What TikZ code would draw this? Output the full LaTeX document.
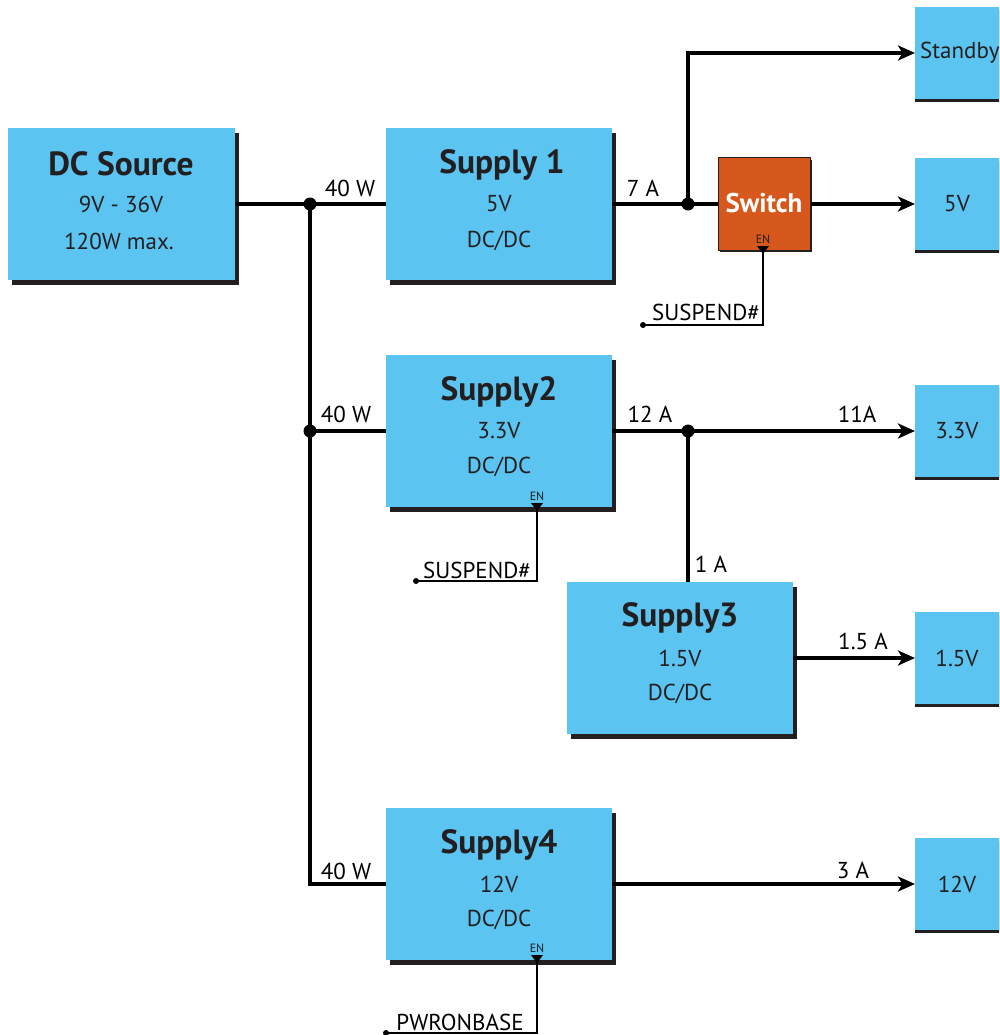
\documentclass[tikz,border=0pt]{standalone}
\usepackage{fontspec}
\setmainfont{PT Sans}
\usetikzlibrary{arrows.meta,shadows,calc}
\definecolor{boxblue}{HTML}{5BC4F1}
\definecolor{swor}{HTML}{D6581C}
\definecolor{shad}{HTML}{231F20}
\begin{document}
\begin{tikzpicture}[x=1pt,y=-1pt,
  blk/.style={rectangle,fill=boxblue,inner sep=0pt,minimum width=226pt,minimum height=152pt,
    drop shadow={shadow xshift=4pt,shadow yshift=-5pt,fill=shad,opacity=1}},
  outb/.style={rectangle,fill=boxblue,inner sep=0pt,minimum width=120pt,minimum height=92pt,anchor=west,
    drop shadow={shadow xshift=0pt,shadow yshift=-3pt,fill=shad,opacity=1}},
  swb/.style={rectangle,fill=swor,draw=shad,line width=1pt,inner sep=0pt,minimum width=92pt,minimum height=92pt,
    drop shadow={shadow xshift=2pt,shadow yshift=-2pt,fill=shad,opacity=1}},
  ttl/.style={font=\fontsize{33.5}{34}\selectfont\bfseries,text=shad,inner sep=0pt},
  sub/.style={font=\fontsize{23}{24}\selectfont,text=shad,inner sep=0pt},
  lbl/.style={font=\fontsize{23}{24}\selectfont,text=black,inner sep=0pt},
  enl/.style={font=\fontsize{12}{13}\selectfont,text=shad,inner sep=0pt},
  wire/.style={line width=3.2pt,black},
  thin/.style={line width=2.6pt,black},
  arr/.style={wire,-{Stealth[length=17pt,width=15pt,inset=4.5pt]}},
  jdot/.style={circle,fill=black,inner sep=0pt,minimum size=13pt},
  edot/.style={circle,fill=black,inner sep=0pt,minimum size=6pt},
  entri/.style={fill=black}]
\useasboundingbox (0,0) rectangle (999,1035);
\clip (0,0) rectangle (999,1035);

% blocks
\node[blk,minimum width=227pt] (src) at (121.5,204) {};
\node[blk] (s1) at (499,204) {};
\node[blk] (s2) at (499,431) {};
\node[blk] (s3) at (680,658) {};
\node[blk] (s4) at (499,884) {};
\node[swb] (sw) at (764,204) {};

\node[outb] (oSb) at (915,53) {};
\node[outb] (o5) at (915,204) {};
\node[outb] (o33) at (915,431) {};
\node[outb] (o15) at (915,658) {};
\node[outb] (o12) at (915,884) {};

% block texts
\node[ttl] (srcT) at (121,164) {DC Source};
\node[sub] (srcA) at (121,204) {9V - 36V};
\node[sub] (srcB) at (119,241) {120W max.};
\node[ttl] (s1T) at (502,165) {Supply 1};
\node[sub] (s1A) at (499,204) {5V};
\node[sub] (s1B) at (499,241) {DC/DC};
\node[ttl] (s2T) at (499,392) {Supply2};
\node[sub] (s2A) at (499,431) {3.3V};
\node[sub] (s2B) at (499,467) {DC/DC};
\node[ttl] (s3T) at (680,618) {Supply3};
\node[sub] (s3A) at (680,658) {1.5V};
\node[sub] (s3B) at (680,694) {DC/DC};
\node[ttl] (s4T) at (499,845) {Supply4};
\node[sub] (s4A) at (499,884) {12V};
\node[sub] (s4B) at (499,920) {DC/DC};
\node[font=\fontsize{27}{28}\selectfont\bfseries,text=white,inner sep=0pt] (swT) at (764,203) {Switch};

\node[sub,anchor=west] (oSbT) at (920,53) {Standby};
\node[sub] (o5T) at (957,204) {5V};
\node[sub] (o33T) at (957,431) {3.3V};
\node[sub] (o15T) at (957,658) {1.5V};
\node[sub] (o12T) at (957,884) {12V};

% junctions
\coordinate (j1) at (310,204);
\coordinate (j2) at (310,431);
\coordinate (j3) at (688,204);
\coordinate (j4) at (688,431);
\coordinate (en1) at (763,250);
\coordinate (en2) at (537,507);
\coordinate (en4) at (537,959);
\coordinate (p1) at (643,325);
\coordinate (p2) at (416,581);
\coordinate (p4) at (386,1033);

% wires
\draw[wire] (src.east) -- (s1.west);
\draw[wire] (j1) |- (s4.west);
\draw[wire] (j2) -- (s2.west);
\draw[wire] (s1.east) -- (sw.west);
\draw[arr] (j3) |- (oSb.west);
\draw[arr] (sw.east) -- (o5.west);
\draw[arr] (s2.east) -- (o33.west);
\draw[wire] (j4) -- (j4 |- s3.north);
\draw[arr] (s3.east) -- (o15.west);
\draw[arr] (s4.east) -- (o12.west);

\draw[thin] (en1) |- (p1);
\draw[thin] (en2) |- (p2);
\draw[thin] (en4) |- (p4);

\node[jdot] (d1) at (j1) {};
\node[jdot] (d2) at (j2) {};
\node[jdot] (d3) at (j3) {};
\node[jdot] (d4) at (j4) {};
\node[edot] (e1) at (p1) {};
\node[edot] (e2) at (p2) {};
\node[edot] (e4) at (p4) {};

% EN markers
\fill[entri] ($(en1)+(-6,-4)$) -- ($(en1)+(6,-4)$) -- ($(en1)+(0,4)$) -- cycle;
\fill[entri] ($(en2)+(-6,-4)$) -- ($(en2)+(6,-4)$) -- ($(en2)+(0,4)$) -- cycle;
\fill[entri] ($(en4)+(-6,-4)$) -- ($(en4)+(6,-4)$) -- ($(en4)+(0,4)$) -- cycle;
\node[enl] (en1T) at (763,239) {EN};
\node[enl] (en2T) at (537,496) {EN};
\node[enl] (en4T) at (537,948) {EN};

% labels
\node[lbl] (l1) at (350,188) {40 W};
\node[lbl] (l2) at (346,414) {40 W};
\node[lbl] (l3) at (346,871) {40 W};
\node[lbl] (l4) at (643,188) {7 A};
\node[lbl] (l5) at (650,414) {12 A};
\node[lbl] (l6) at (857,414) {11A};
\node[lbl] (l7) at (711,564) {1 A};
\node[lbl] (l8) at (863,641) {1.5 A};
\node[lbl] (l9) at (853,870) {3 A};
\node[lbl] (l10) at (706,312) {SUSPEND\#};
\node[lbl] (l11) at (477,570) {SUSPEND\#};
\node[lbl] (l12) at (460,1022) {PWRONBASE};
\end{tikzpicture}
\end{document}
